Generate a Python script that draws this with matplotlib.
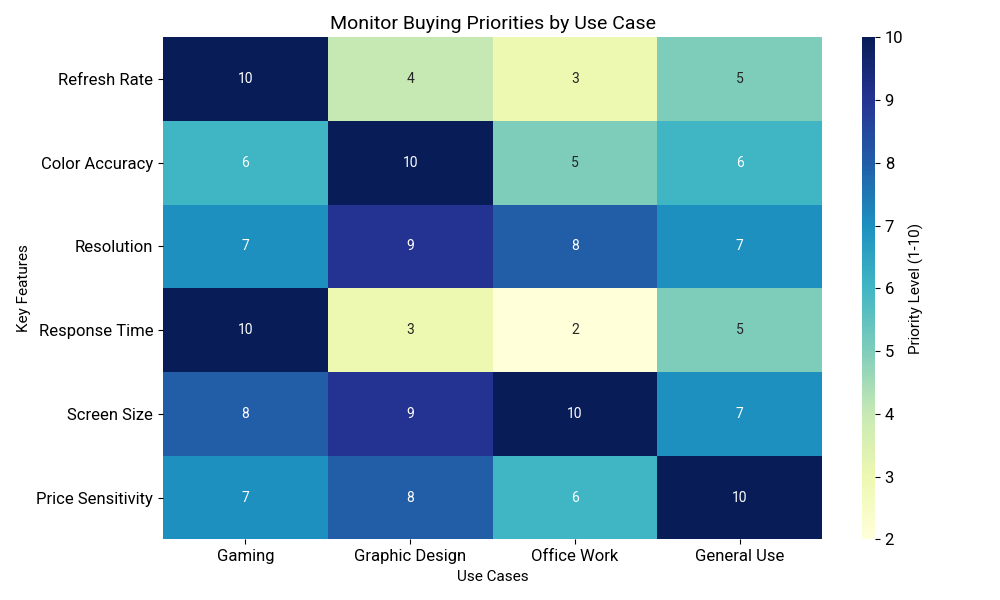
import matplotlib
matplotlib.use("Agg")
import matplotlib.pyplot as plt
import numpy as np

plt.rcParams['font.family'] = ['Roboto', 'DejaVu Sans']

features = ["Refresh Rate", "Color Accuracy", "Resolution", "Response Time", "Screen Size", "Price Sensitivity"]
use_cases = ["Gaming", "Graphic Design", "Office Work", "General Use"]
gaming = [10, 6, 7, 10, 8, 7]
graphic_design = [4, 10, 9, 3, 9, 8]
office_work = [3, 5, 8, 2, 10, 6]
general_use = [5, 6, 7, 5, 7, 10]

data = np.array([gaming, graphic_design, office_work, general_use]).T

fig = plt.figure(figsize=(10, 6), dpi=100)
ax = fig.add_axes([0.163, 0.101, 0.659, 0.837])
cax = fig.add_axes([0.862, 0.101, 0.013, 0.837])
im = ax.pcolormesh(data, cmap='YlGnBu', vmin=2, vmax=10)
ax.set_xlim(0, data.shape[1]); ax.set_ylim(data.shape[0], 0)
for i in range(data.shape[0]):
    for j in range(data.shape[1]):
        v = data[i, j]
        ax.text(j + 0.5, i + 0.5, str(v), ha='center', va='center', fontsize=10,
                color='white' if v >= 6 else '#262626')
ax.set_xticks(np.arange(data.shape[1]) + 0.5)
ax.set_xticklabels(use_cases, fontsize=12)
ax.set_yticks(np.arange(data.shape[0]) + 0.5)
ax.set_yticklabels(features, fontsize=12)
for s in ax.spines.values():
    s.set_visible(False)
ax.set_xlabel("Use Cases", fontsize=11)
ax.set_ylabel("Key Features", fontsize=11)
ax.set_title("Monitor Buying Priorities by Use Case", fontsize=14)
cb = fig.colorbar(im, cax=cax)
cb.outline.set_visible(False)
cb.ax.tick_params(labelsize=12)
cb.set_label("Priority Level (1-10)", fontsize=11)
fig.savefig("out.png", dpi=100)
